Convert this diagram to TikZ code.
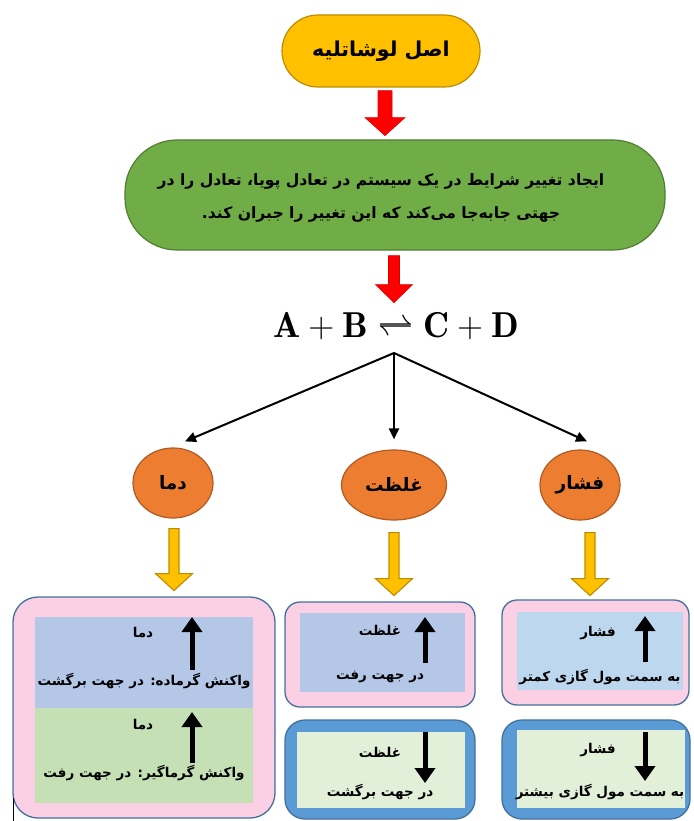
\RequirePackage{fix-cm}
\documentclass[tikz,border=0pt]{standalone}
\usepackage{fontspec}
\usetikzlibrary{arrows.meta,shapes.geometric,calc}
\newfontfamily\fa[Script=Arabic]{DejaVu Sans}
\TeXXeTstate=1
\definecolor{gold}{HTML}{FFC000}
\definecolor{goldln}{HTML}{BC8C00}
\definecolor{leaf}{HTML}{70AD47}
\definecolor{leafln}{HTML}{507E32}
\definecolor{ember}{HTML}{ED7D31}
\definecolor{emberln}{HTML}{AE5A21}
\definecolor{rose}{HTML}{FBCFE4}
\definecolor{navy}{HTML}{41719C}
\definecolor{sky}{HTML}{B4C7E7}
\definecolor{skylt}{HTML}{BDD7EE}
\definecolor{moss}{HTML}{C5E0B4}
\definecolor{mint}{HTML}{E2F0D9}
\definecolor{ocean}{HTML}{5B9BD5}
\newcommand{\rl}[1]{\beginR#1\endR}
\newcommand{\fsz}[2]{\fontsize{#1}{#2}\selectfont}
% block arrow pointing down: style, top point, half shaft, shaft length, half head, head length
\newcommand{\blockar}[6]{%
  \draw[#1] ([xshift=-#3pt]#2) -- ++(0,#4) -- ++({-(#5-#3)},0) -- ++(#5,#6)
    -- ++(#5,{-#6}) -- ++({-(#5-#3)},0) -- ++(0,{-#4}) -- cycle;}
\tikzset{
  pill/.style={draw,line width=1.2pt,align=center,inner sep=0pt},
  blob/.style={ellipse,draw=emberln,fill=ember,line width=1.2pt,inner sep=0pt,font=\fa\bfseries\fsz{18.5}{20}},
  redar/.style={fill=red,draw=red!85!black,line width=0.6pt,line join=miter},
  goldar/.style={fill=gold,draw=goldln,line width=1.1pt,line join=miter},
  frame/.style={draw=navy,line width=1.3pt,inner sep=0pt},
  pane/.style={inner sep=0pt},
  lbl/.style={inner sep=0pt,font=\fa\bfseries\fsz{13.5}{15}},
  big/.style={inner sep=0pt,font=\fa\bfseries\fsz{13.5}{15}},
  fk/.style={-{Triangle[length=11pt,width=10pt]},line width=2pt},
  up/.style={-{Triangle[length=15pt,width=20pt]},line width=5pt},
}
\begin{document}
\begin{tikzpicture}[x=1pt,y=-1pt]
\useasboundingbox (0,0) rectangle (693,821);

% top of the chart
\node[pill,fill=gold,draw=goldln,minimum width=198pt,minimum height=72pt,rounded corners=36pt,
  font=\fa\bfseries\fsz{20.5}{24}] (law) at (381,51) {\rl{اصل لوشاتلیه}};
\node[pill,fill=leaf,draw=leafln,minimum width=540pt,minimum height=110pt,rounded corners=52pt] (rule) at (395,195) {};
\node[align=center,inner sep=0pt,font=\fa\bfseries\fsz{15.6}{33}] (ruletxt) at (381,198)
  {\rl{ایجاد تغییر شرایط در یک سیستم در تعادل پویا، تعادل را در}\\
   \rl{جهتی جابه‌جا می‌کند که این تغییر را جبران کند.}};
\node[inner sep=0pt,font=\fsz{36}{40}] (eq) at (396,326)
  {$\mathbf{A}+\mathbf{B}\rightleftharpoons\mathbf{C}+\mathbf{D}$};
\coordinate (r1) at ([xshift=4pt,yshift=-3pt]law.south);
\coordinate (r2) at ([xshift=-1pt,yshift=-5pt]rule.south);
\blockar{redar}{r1}{7}{27}{20}{18}
\blockar{redar}{r2}{5.5}{29}{18.5}{18}

% three factors
\coordinate (fork) at (394,353);
\node[blob,minimum width=80pt,minimum height=70pt] (dama) at (173,483) {\rl{دما}};
\node[blob,minimum width=105pt,minimum height=70pt] (ghelzat) at (394,485) {\rl{غلظت}};
\node[blob,minimum width=80pt,minimum height=70pt] (fashar) at (580,485) {\rl{فشار}};
\draw[fk] (fork) -- ([xshift=12pt,yshift=6pt]dama.north);
\draw[fk] (fork) -- ([yshift=10pt]ghelzat.north);
\draw[fk] (fork) -- ([xshift=7pt,yshift=8pt]fashar.north);

% boxes below
\node[frame,fill=rose,minimum width=262pt,minimum height=221pt,rounded corners=25pt] (tbox) at (144,707.5) {};
\node[pane,fill=sky,minimum width=218pt,minimum height=91pt] (tup) at (144,662.5) {};
\node[pane,fill=moss,minimum width=218pt,minimum height=95pt] (tdown) at (144,755.5) {};
\node[frame,fill=rose,minimum width=190pt,minimum height=105pt,rounded corners=15pt] (cup) at (380,654.5) {};
\node[pane,fill=sky,minimum width=165pt,minimum height=79pt] (cupin) at (382.5,652.5) {};
\node[frame,fill=ocean,minimum width=190pt,minimum height=99pt,rounded corners=20pt] (cdown) at (380,769.5) {};
\node[pane,fill=mint,minimum width=168pt,minimum height=76pt] (cdownin) at (381,770) {};
\node[frame,fill=rose,minimum width=187pt,minimum height=105pt,rounded corners=15pt] (pup) at (595.5,652.5) {};
\node[pane,fill=skylt,minimum width=166pt,minimum height=78pt] (pupin) at (600,651) {};
\node[frame,fill=ocean,minimum width=188pt,minimum height=99pt,rounded corners=20pt] (pdown) at (596,769.5) {};
\node[pane,fill=mint,minimum width=168pt,minimum height=78pt] (pdownin) at (601,769) {};

\coordinate (g1) at ([xshift=1pt,yshift=-10pt]dama.south);
\coordinate (g2) at ([yshift=-12pt]ghelzat.south);
\coordinate (g3) at ([xshift=10pt,yshift=-12pt]fashar.south);
\blockar{goldar}{g1}{5}{45}{18.5}{17}
\blockar{goldar}{g2}{5}{46}{18.5}{17}
\blockar{goldar}{g3}{5}{46}{18.5}{17}

% temperature
\node[lbl] (t1) at (143,633) {\rl{دما}};
\draw[up] (192,670) -- (192,617);
\node[big] (t2) at (144,681) {\rl{واکنش گرماده: در جهت برگشت}};
\node[lbl] (t3) at (143,725) {\rl{دما}};
\draw[up] (192,763) -- (192,712);
\node[big] (t4) at (144,773) {\rl{واکنش گرماگیر: در جهت رفت}};

% concentration
\node[lbl] (c1) at (380,630) {\rl{غلظت}};
\draw[up] (425,663) -- (425,617);
\node[big] (c2) at (380,677) {\rl{در جهت رفت}};
\node[lbl] (c3) at (380,752) {\rl{غلظت}};
\draw[up] (425,732) -- (425,783);
\node[big] (c4) at (380,792) {\rl{در جهت برگشت}};

% pressure
\node[lbl] (p1) at (598,633) {\rl{فشار}};
\draw[up] (645,662) -- (645,616);
\node[big] (p2) at (600,677) {\rl{به سمت مول گازی کمتر}};
\node[lbl] (p3) at (598,750) {\rl{فشار}};
\draw[up] (645,732) -- (645,781);
\node[big] (p4) at (600,792) {\rl{به سمت مول گازی بیشتر}};

\draw[line width=1pt] (13,798) -- (13,821);
\end{tikzpicture}
\end{document}
